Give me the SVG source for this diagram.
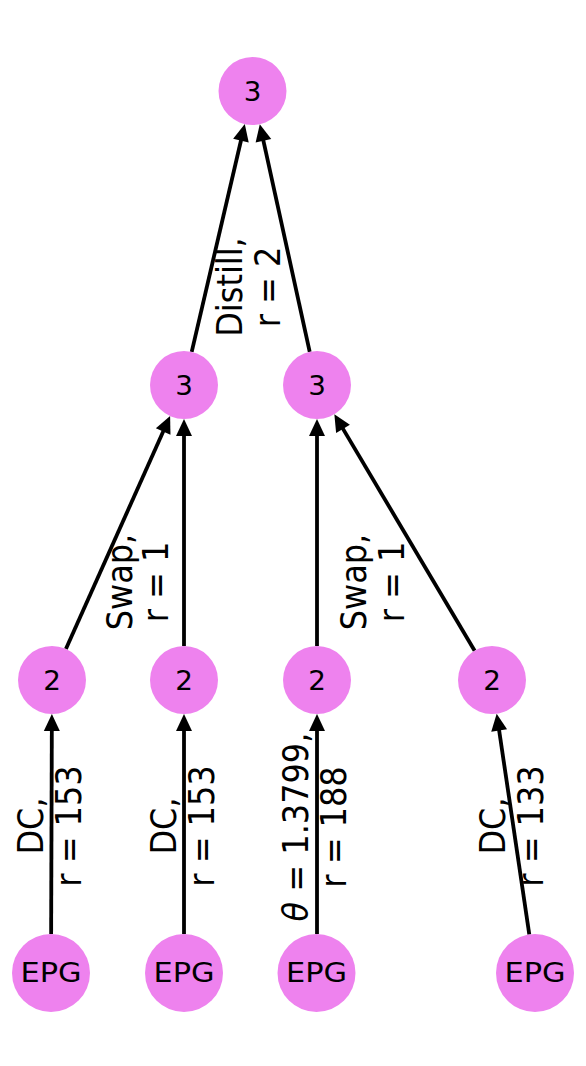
<svg xmlns="http://www.w3.org/2000/svg" width="586" height="1066" viewBox="0 0 586 1066">
<style>
.node{fill:#EE82EE;}
.nl{font-family:"DejaVu Sans",sans-serif;font-size:26px;fill:#000;text-anchor:middle;}
.el{font-family:"DejaVu Sans",sans-serif;font-size:32px;fill:#000;text-anchor:middle;}
.edge{stroke:#000;stroke-width:3.8;fill:none;marker-end:url(#arr);}
</style>
<defs>
<marker id="arr" markerUnits="userSpaceOnUse" markerWidth="17" markerHeight="16" refX="2" refY="8" orient="auto" overflow="visible">
<path d="M0,0 L17,8 L0,16 z" fill="#000"/>
</marker>
</defs>
<rect width="586" height="1066" fill="#fff"/>
<g id="edges">
<line class="edge" x1="51.13" y1="934" x2="51.83" y2="729"/>
<line class="edge" x1="184" y1="934" x2="184" y2="729"/>
<line class="edge" x1="317" y1="934" x2="317" y2="729"/>
<line class="edge" x1="529.3" y1="934.42" x2="498.86" y2="728.48"/>
<line class="edge" x1="65.89" y1="648.97" x2="163.98" y2="429.72"/>
<line class="edge" x1="184" y1="646" x2="184" y2="434"/>
<line class="edge" x1="317" y1="646" x2="317" y2="434"/>
<line class="edge" x1="474.65" y1="650.76" x2="342.0" y2="427.14"/>
<line class="edge" x1="191.71" y1="351.89" x2="241.39" y2="138.72"/>
<line class="edge" x1="309.71" y1="351.79" x2="263.0" y2="138.86"/>
</g>
<g id="edge-labels">
<text class="el" transform="translate(51.5,826) rotate(-90) scale(1,1.13)"><tspan x="0" y="-7.5">DC,</tspan><tspan x="0" y="26.1">r = 153</tspan></text>
<text class="el" transform="translate(184,826) rotate(-90) scale(1,1.13)"><tspan x="0" y="-7.5">DC,</tspan><tspan x="0" y="26.1">r = 153</tspan></text>
<text class="el" transform="translate(316.5,827) rotate(-90) scale(1,1.13)"><tspan x="0" y="-7.5"><tspan font-style="italic">θ</tspan> = 1.3799,</tspan><tspan x="0" y="26.1">r = 188</tspan></text>
<text class="el" transform="translate(513.5,826) rotate(-90) scale(1,1.13)"><tspan x="0" y="-7.5">DC,</tspan><tspan x="0" y="26.1">r = 133</tspan></text>
<text class="el" transform="translate(140,582) rotate(-90) scale(1,1.13)"><tspan x="0" y="-7.5">Swap,</tspan><tspan x="0" y="25">r = 1</tspan></text>
<text class="el" transform="translate(374,582) rotate(-90) scale(1,1.13)"><tspan x="0" y="-7.5">Swap,</tspan><tspan x="0" y="26.1">r = 1</tspan></text>
<text class="el" transform="translate(250,287) rotate(-90) scale(1,1.13)"><tspan x="0" y="-7.5">Distill,</tspan><tspan x="0" y="26.1">r = 2</tspan></text>
</g>
<g id="n-top"><circle class="node" cx="252.5" cy="91" r="34"/><text class="nl" transform="translate(252.5,100.5) scale(1.07,1)">3</text></g>
<g id="n-m1"><circle class="node" cx="184" cy="385" r="34"/><text class="nl" transform="translate(184,394.5) scale(1.07,1)">3</text></g>
<g id="n-m2"><circle class="node" cx="317" cy="385" r="34"/><text class="nl" transform="translate(317,394.5) scale(1.07,1)">3</text></g>
<g id="n-a1"><circle class="node" cx="52" cy="680" r="34"/><text class="nl" transform="translate(52,689.5) scale(1.07,1)">2</text></g>
<g id="n-a2"><circle class="node" cx="184" cy="680" r="34"/><text class="nl" transform="translate(184,689.5) scale(1.07,1)">2</text></g>
<g id="n-a3"><circle class="node" cx="317" cy="680" r="34"/><text class="nl" transform="translate(317,689.5) scale(1.07,1)">2</text></g>
<g id="n-a4"><circle class="node" cx="492" cy="680" r="34"/><text class="nl" transform="translate(492,689.5) scale(1.07,1)">2</text></g>
<g id="n-e1"><circle class="node" cx="51" cy="973" r="39"/><text class="nl" transform="translate(51,982) scale(1.17,1)">EPG</text></g>
<g id="n-e2"><circle class="node" cx="184" cy="973" r="39"/><text class="nl" transform="translate(184,982) scale(1.17,1)">EPG</text></g>
<g id="n-e3"><circle class="node" cx="316.5" cy="973" r="39"/><text class="nl" transform="translate(316.5,982) scale(1.17,1)">EPG</text></g>
<g id="n-e4"><circle class="node" cx="535" cy="973" r="39"/><text class="nl" transform="translate(535,982) scale(1.17,1)">EPG</text></g>
</svg>
